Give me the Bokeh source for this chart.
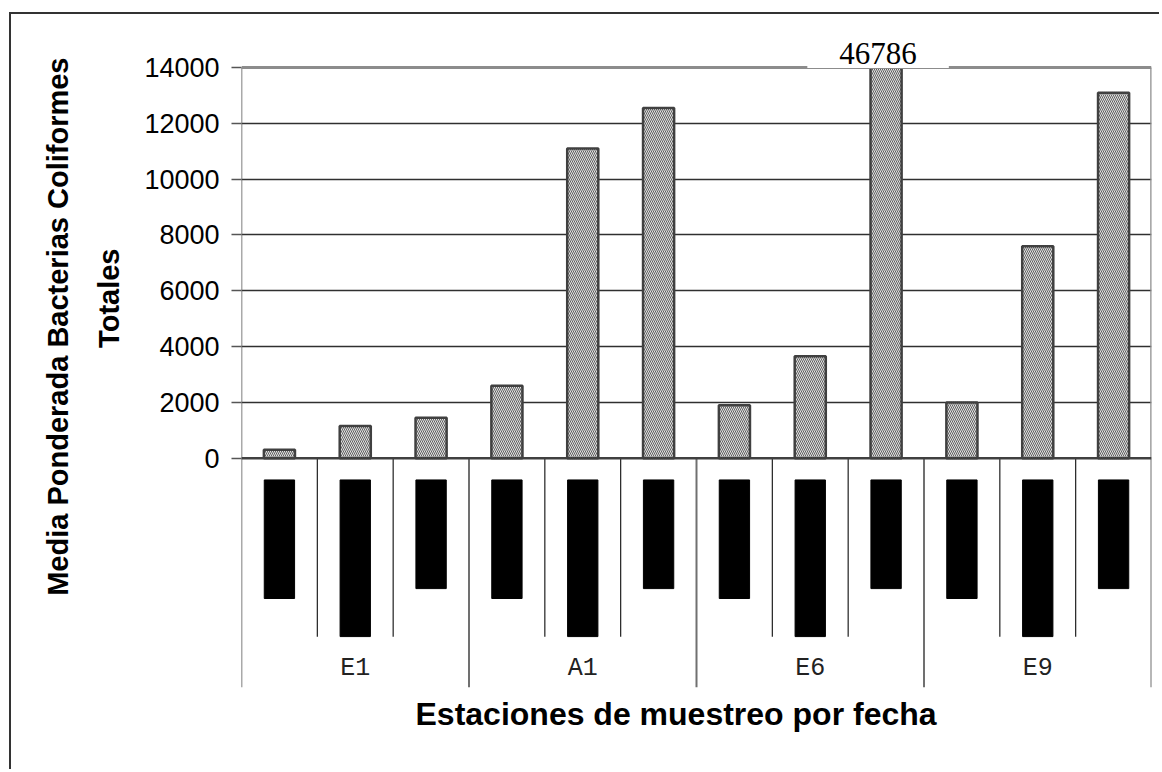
from bokeh.plotting import figure
from bokeh.models import Range1d, FixedTicker, Span, Label, Title
from bokeh.core.properties import value
from bokeh.embed import file_html
from bokeh.resources import INLINE

# ---- data ----
stations = ["E1", "A1", "E6", "E9"]
dates_per_station = 3
values = [300, 1150, 1450, 2600, 11100, 12550, 1900, 3650, 46786, 2000, 7600, 13100]
y_ticks = [0, 2000, 4000, 6000, 8000, 10000, 12000, 14000]
y_max = 14000
# lengths of the (redacted) date labels, in the order of the dates within a station
date_label_len = [4250, 5615, 3895]

n = len(values)
xc = [i + 0.5 for i in range(n)]
y_bottom = -8220
y_top = 15330
shown = [min(v, y_max) for v in values]   # broken bar is drawn up to the axis maximum

p = figure(width=1150, height=757, output_backend="svg", toolbar_location=None,
           x_range=Range1d(0, n), y_range=Range1d(y_bottom, y_top),
           x_axis_location=None, min_border_left=230, min_border_top=16,
           min_border_right=10, min_border_bottom=84)
p.styles = {"border-left": "2px solid #333333", "border-top": "2px solid #333333",
            "margin-left": "9px", "margin-top": "12px"}
p.outline_line_color = None
p.background_fill_color = "white"
p.border_fill_color = "white"

# y axis
p.yaxis.ticker = FixedTicker(ticks=y_ticks)
p.yaxis.axis_line_color = None
p.yaxis.major_tick_line_color = "#555555"
p.yaxis.major_tick_line_width = 1.5
p.yaxis.major_tick_out = 10
p.yaxis.major_tick_in = 0
p.yaxis.minor_tick_line_color = None
p.yaxis.major_label_standoff = 12
p.yaxis.major_label_text_font = "Liberation Sans"
p.yaxis.major_label_text_font_size = "27px"
p.yaxis.major_label_text_color = "black"

# grid
p.xgrid.visible = False
p.ygrid.ticker = FixedTicker(ticks=y_ticks[1:-1])
p.ygrid.grid_line_color = "#303030"
p.ygrid.grid_line_width = 1.5

# axis line, plot-area border and category separators
p.segment(x0=[0], y0=[y_bottom], x1=[0], y1=[y_max], line_color="#555555", line_width=1.5)
p.segment(x0=[n], y0=[0], x1=[n], y1=[y_max], line_color="#8c8c8c", line_width=2.5)
inner_x = [g * dates_per_station + k for g in range(len(stations)) for k in range(1, dates_per_station)]
group_x = [g * dates_per_station for g in range(1, len(stations) + 1)]
p.segment(x0=inner_x, y0=[0] * len(inner_x), x1=inner_x, y1=[-6400] * len(inner_x),
          line_color="#202020", line_width=1.2)
p.segment(x0=group_x, y0=[0] * len(group_x), x1=group_x, y1=[y_bottom] * len(group_x),
          line_color="#707070", line_width=2)

# bars
p.vbar(x=xc, top=shown, bottom=0, width=0.41, fill_color="#e2e2e2",
       hatch_pattern="\\", hatch_color="#606060", hatch_scale=4, hatch_weight=1,
       line_color="#404040", line_width=2.5)

# redacted date labels (black boxes)
lens = date_label_len * len(stations)
p.quad(left=[x - 0.2 for x in xc], right=[x + 0.2 for x in xc],
       top=[-780] * n, bottom=[-780 - L for L in lens], color="black")

# station labels
p.text(x=[g * dates_per_station + dates_per_station / 2 for g in range(len(stations))],
       y=[-7552] * len(stations), text=stations, text_font=value("Liberation Mono"),
       text_font_size="25px", text_align="center", text_baseline="middle", text_color="#222222")

p.add_layout(Span(location=0, dimension="width", line_color="#404040", line_width=2.5))
p.add_layout(Span(location=y_max, dimension="width", line_color="#8c8c8c", line_width=3))

# broken-bar value label
p.add_layout(Label(x=8.5, y=y_max, text=str(values[8]), text_font="Liberation Serif",
                   text_font_size="31px", text_align="center", text_baseline="middle",
                   y_offset=14, x_offset=-8, background_fill_color="white",
                   padding=(32, 4), text_color="black"))

# axis titles
p.add_layout(Title(text="Totales", align="right", text_font="Liberation Sans",
                   text_font_style="bold", text_font_size="29px", text_color="black",
                   standoff=34, offset=218), "left")
p.add_layout(Title(text="Media Ponderada Bacterias Coliformes", align="right",
                   text_font="Liberation Sans", text_font_style="bold", text_color="black",
                   text_font_size="29px", standoff=0, offset=27), "left")
p.add_layout(Title(text="Estaciones de muestreo por fecha", align="left",
                   text_font="Liberation Sans", text_font_style="bold", text_color="black",
                   text_font_size="32px", standoff=12, offset=174), "below")

open("out.html", "w").write(file_html(p, INLINE))
